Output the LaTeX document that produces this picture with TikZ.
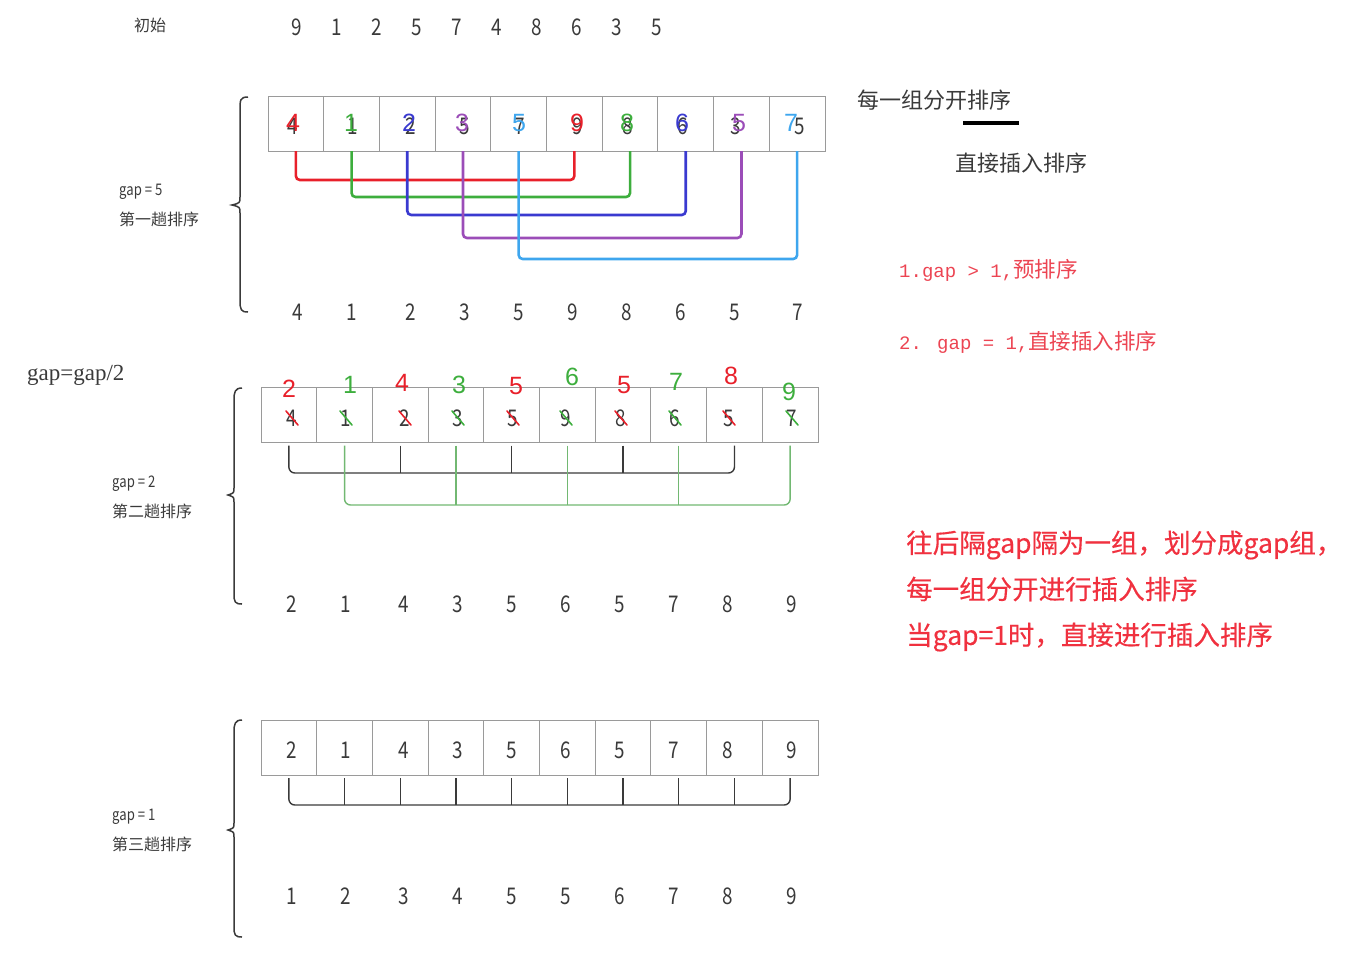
\documentclass[tikz,border=0pt]{standalone}
\usepackage{fontspec}
\setmainfont{Noto Sans CJK SC}
\newfontfamily\cjk{Noto Sans CJK SC}
\newfontfamily\cjkb[FakeBold=0.4]{Noto Sans CJK SC}
\newfontfamily\numf[FakeStretch=0.82]{Noto Sans CJK SC}
\newfontfamily\serifl{Liberation Serif}
\newfontfamily\monol{Liberation Mono}
\newfontfamily\hand{Liberation Sans}
\usetikzlibrary{calc}
\definecolor{hred}{HTML}{E8202A}
\definecolor{hgreen}{HTML}{3DAE3D}
\definecolor{hblue}{HTML}{3A3AD0}
\definecolor{hpurple}{HTML}{9B4DB8}
\definecolor{hlblue}{HTML}{3EA6EE}
\definecolor{txt}{HTML}{3A3A3A}
\definecolor{cellgray}{HTML}{9A9A9A}
\definecolor{pinkred}{HTML}{EC4452}
\definecolor{bigred}{HTML}{F0313F}
\definecolor{lgreen}{HTML}{72B872}
\tikzset{
  cell/.style={draw=cellgray, line width=0.9pt, minimum width=55.7pt, minimum height=55pt, inner sep=0pt, outer sep=0pt},
  num/.style={font=\numf\fontsize{23}{23}\selectfont, text=txt, inner sep=0pt},
  hw/.style={font=\hand\fontsize{25}{25}\selectfont, inner sep=0pt},
  lbl/.style={font=\numf\fontsize{16}{16}\selectfont, text=txt, anchor=west, inner sep=0pt},
  conn/.style={line width=2.6pt, rounded corners=4pt},
  brk/.style={line width=1.4pt, rounded corners=6pt},
  brace/.style={line width=1.5pt, draw=txt},
  strike/.style={line width=1.6pt, line cap=round},
  big/.style={font=\cjkb\fontsize{26.5}{26.5}\selectfont, text=bigred, anchor=west, inner sep=0pt},
}
\begin{document}
\begin{tikzpicture}[x=1pt,y=-1pt]
\useasboundingbox (0,0) rectangle (1349,967);

% ---------- initial ----------
\node[lbl] (init) at (134,25) {\cjk 初始};
\foreach \v [count=\i] in {9,1,2,5,7,4,8,6,3,5}
  \node[num] (T\i) at ({297+40*(\i-1)},27) {\v};

% ---------- row 1 (gap = 5) ----------
\foreach \i in {1,...,10}
  \node[cell] (A\i) at ({268+55.7*(\i-0.5)},123.5) {};
\foreach \i/\x/\b/\h/\c/\dx in {1/293/4/4/hred/0, 2/353/1/1/hgreen/-2, 3/411/2/2/hblue/-2,
  4/465/5/3/hpurple/-3, 5/520/7/5/hlblue/-1, 6/578/9/9/hred/-1, 7/628/8/8/hgreen/-1,
  8/683/6/6/hblue/-1, 9/736/3/5/hpurple/3, 10/800/5/7/hlblue/-9}
{
  \node[num] (P\i) at (\x,126) {\b};
  \node[hw, text=\c] (H\i) at ({\x+\dx},123) {\h};
}
\coordinate (ya) at (0,180);
\coordinate (yb) at (0,197);
\coordinate (yc) at (0,215);
\coordinate (yd) at (0,238);
\coordinate (ye) at (0,259);
\draw[conn, hred]    (A1.south) -- (A1.south |- ya) -- (A6.south |- ya) -- (A6.south);
\draw[conn, hgreen]  (A2.south) -- (A2.south |- yb) -- (A7.south |- yb) -- (A7.south);
\draw[conn, hblue]   (A3.south) -- (A3.south |- yc) -- (A8.south |- yc) -- (A8.south);
\draw[conn, hpurple] (A4.south) -- (A4.south |- yd) -- (A9.south |- yd) -- (A9.south);
\draw[conn, hlblue]  (A5.south) -- (A5.south |- ye) -- (A10.south |- ye) -- (A10.south);

\foreach \v/\x [count=\i] in {4/298,1/352,2/411,3/465,5/519,9/573,8/627,6/681,5/735,7/798}
  \node[num] (R\i) at (\x,312) {\v};

\draw[brace] (248,97) .. controls (240,97) and (240,100) .. (240,110) -- (240,197)
  .. controls (240,203) .. (232,205) .. controls (240,207) .. (240,213) -- (240,300)
  .. controls (240,310) and (241,312) .. (248,312);
\node[lbl] (g5) at (119,192) {gap = 5};
\node[lbl] (s1) at (119,219) {\cjk 第一趟排序};

\node[font=\serifl\fontsize{23}{23}\selectfont, text=txt, anchor=west, inner sep=0pt] (gg) at (27,375) {gap=gap/2};

% ---------- row 2 (gap = 2) ----------
\foreach \i in {1,...,10}
  \node[cell] (C\i) at ({261+55.7*(\i-0.5)},415) {};
\foreach \v/\x [count=\i] in {4/292,1/346,2/405,3/458,5/513,9/566,8/621,6/675,5/729,7/792}
  \node[num] (Q\i) at (\x,418) {\v};
\foreach \h/\x/\y/\c [count=\i] in {2/289/389/hred, 1/350/385/hgreen, 4/402/383/hred, 3/459/385/hgreen,
  5/516/386/hred, 6/572/377/hgreen, 5/624/385/hred, 7/676/382/hgreen, 8/731/376/hred, 9/789/392/hgreen}
{
  \node[hw, text=\c] (G\i) at (\x,\y) {\h};
  \draw[strike, \c] ($(Q\i)+(-6,-7)$) -- ($(Q\i)+(6,7)$);
}
\coordinate (yf) at (0,473);
\coordinate (yg) at (0,505);
\draw[brk, txt] ([yshift=-3pt]C1.south) -- (C1.south |- yf) -- (C9.south |- yf) -- ([yshift=-3pt]C9.south);
\foreach \k in {3,5,7}
  \draw[line width=1.4pt, txt] ([yshift=-3pt]C\k.south) -- (C\k.south |- yf);
\draw[brk, lgreen] ([yshift=-3pt]C2.south) -- (C2.south |- yg) -- (C10.south |- yg) -- ([yshift=-3pt]C10.south);
\foreach \k in {4,6,8}
  \draw[line width=1.2pt, lgreen] ([yshift=-3pt]C\k.south) -- (C\k.south |- yg);

\foreach \v/\x [count=\i] in {2/292,1/346,4/404,3/458,5/512,6/566,5/620,7/674,8/728,9/792}
  \node[num] (S\i) at (\x,604) {\v};

\draw[brace] (242,388) .. controls (235,388) and (234,392) .. (234,400) -- (234,488)
  .. controls (234,493) .. (228,495) .. controls (234,497) .. (234,502) -- (234,594)
  .. controls (234,602) and (235,604) .. (242,604);
\node[lbl] (g2) at (112,484) {gap = 2};
\node[lbl] (s2) at (112,511) {\cjk 第二趟排序};

% ---------- row 3 (gap = 1) ----------
\foreach \i in {1,...,10}
  \node[cell] (D\i) at ({261+55.7*(\i-0.5)},747.5) {};
\foreach \v/\x [count=\i] in {2/292,1/346,4/404,3/458,5/512,6/566,5/620,7/674,8/728,9/792}
  \node[num] (U\i) at (\x,750) {\v};
\coordinate (yh) at (0,805);
\draw[brk, txt] ([yshift=-3pt]D1.south) -- (D1.south |- yh) -- (D10.south |- yh) -- ([yshift=-3pt]D10.south);
\foreach \k in {2,...,9}
  \draw[line width=1.4pt, txt] ([yshift=-3pt]D\k.south) -- (D\k.south |- yh);

\foreach \v/\x [count=\i] in {1/292,2/346,3/404,4/458,5/512,5/566,6/620,7/674,8/728,9/792}
  \node[num] (V\i) at (\x,896) {\v};

\draw[brace] (242,720) .. controls (235,720) and (234,724) .. (234,732) -- (234,823)
  .. controls (234,828) .. (228,830) .. controls (234,832) .. (234,837) -- (234,927)
  .. controls (234,935) and (235,937) .. (242,937);
\node[lbl] (g1) at (112,817) {gap = 1};
\node[lbl] (s3) at (112,844) {\cjk 第三趟排序};

% ---------- right side notes ----------
\node[font=\cjk\fontsize{22}{22}\selectfont, text=txt, anchor=west, inner sep=0pt] (n1) at (857,100) {每一组分开排序};
\draw[line width=3.5pt, black] (963,123) -- (1019,123);
\node[font=\cjk\fontsize{22}{22}\selectfont, text=txt, anchor=west, inner sep=0pt] (n2) at (955,163) {直接插入排序};
\node[font=\cjk\fontsize{21.5}{21.5}\selectfont, text=pinkred, anchor=west, inner sep=0pt] (n3) at (899,270)
  {{\monol\fontsize{19}{19}\selectfont 1.gap > 1,}预排序};
\node[font=\cjk\fontsize{21.5}{21.5}\selectfont, text=pinkred, anchor=west, inner sep=0pt] (n4) at (899,342)
  {{\monol\fontsize{19}{19}\selectfont 2. gap = 1,}直接插入排序};

\node[big] (m1) at (906,545) {往后隔gap隔为一组，划分成gap组，};
\node[big] (m2) at (906,589) {每一组分开进行插入排序};
\node[big] (m3) at (906,637) {当gap=1时，直接进行插入排序};
\end{tikzpicture}
\end{document}
